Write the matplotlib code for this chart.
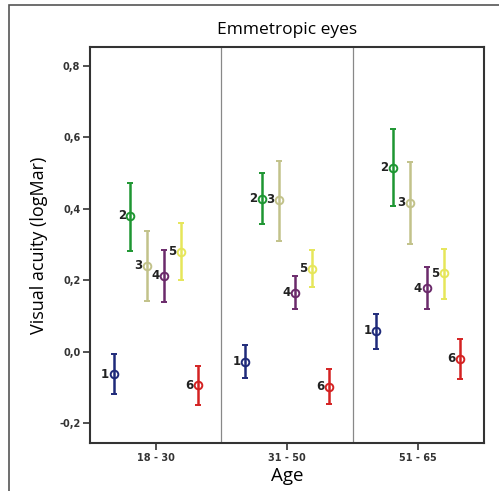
import matplotlib.pyplot as plt
from matplotlib.patches import Rectangle

# age groups and the six series (means with lower/upper bounds)
groups = ["18 - 30", "31 - 50", "51 - 65"]
series = ["1", "2", "3", "4", "5", "6"]
colors = ["#1f2a7a", "#1e9632", "#c2c28a", "#6b2a6b", "#e6e65a", "#d42222"]

mean_1 = [-0.064, -0.028, 0.058]
lo_1 = [-0.120, -0.073, 0.008]
hi_1 = [-0.006, 0.017, 0.106]

mean_2 = [0.380, 0.428, 0.515]
lo_2 = [0.283, 0.358, 0.408]
hi_2 = [0.473, 0.500, 0.624]

mean_3 = [0.240, 0.425, 0.417]
lo_3 = [0.143, 0.310, 0.302]
hi_3 = [0.338, 0.535, 0.530]

mean_4 = [0.213, 0.165, 0.178]
lo_4 = [0.140, 0.120, 0.120]
hi_4 = [0.285, 0.213, 0.238]

mean_5 = [0.280, 0.232, 0.220]
lo_5 = [0.200, 0.180, 0.148]
hi_5 = [0.360, 0.285, 0.288]

mean_6 = [-0.095, -0.098, -0.020]
lo_6 = [-0.150, -0.148, -0.076]
hi_6 = [-0.040, -0.048, 0.036]

means = [mean_1, mean_2, mean_3, mean_4, mean_5, mean_6]
lows = [lo_1, lo_2, lo_3, lo_4, lo_5, lo_6]
highs = [hi_1, hi_2, hi_3, hi_4, hi_5, hi_6]

fig = plt.figure(figsize=(4.99, 4.91), dpi=100)
# outer frame
fig.patches.append(Rectangle((9 / 499, -0.1), 1.2, 1 - 5 / 491 + 0.1,
                             transform=fig.transFigure, fill=False,
                             edgecolor="#555555", lw=1.2))
ax = fig.add_axes([0.1804, 0.0978, 0.7896, 0.8065])

step = 0.128
for k in range(6):
    for g in range(3):
        x = g + (k - 2.5) * step
        m = means[k][g]
        ax.errorbar(x, m, yerr=[[m - lows[k][g]], [highs[k][g] - m]],
                    fmt="o", color=colors[k], ms=5.5, mfc="none", mew=1.4,
                    elinewidth=1.8, capsize=2.5, capthick=1.5)
        ax.text(x - 0.035, m, series[k], ha="right", va="center",
                fontsize=8.5, fontweight="bold", color="#222222")

for d in [0.5, 1.5]:
    ax.axvline(d, color="#888888", lw=0.9)

ax.set_xlim(-0.5, 2.5)
ax.set_ylim(-0.256, 0.853)
ax.set_xticks(range(3))
ax.set_xticklabels(groups)
ax.set_yticks([-0.2, 0.0, 0.2, 0.4, 0.6, 0.8])
ax.set_yticklabels(["-0,2", "0,0", "0,2", "0,4", "0,6", "0,8"])
ax.tick_params(labelsize=7, length=5, width=1.2, colors="#333333", pad=2)
for lab in ax.get_xticklabels() + ax.get_yticklabels():
    lab.set_fontweight("bold")
for s in ax.spines.values():
    s.set_color("#333333")
    s.set_linewidth(1.5)

ax.set_title("Emmetropic eyes", fontsize=12.5, family="Open Sans", pad=9)
ax.set_ylabel("Visual acuity (logMar)", fontsize=13, family="Open Sans", labelpad=8)
ax.set_xlabel("Age", fontsize=13.5, family="Open Sans", labelpad=3)

fig.savefig("out.png", dpi=100)
